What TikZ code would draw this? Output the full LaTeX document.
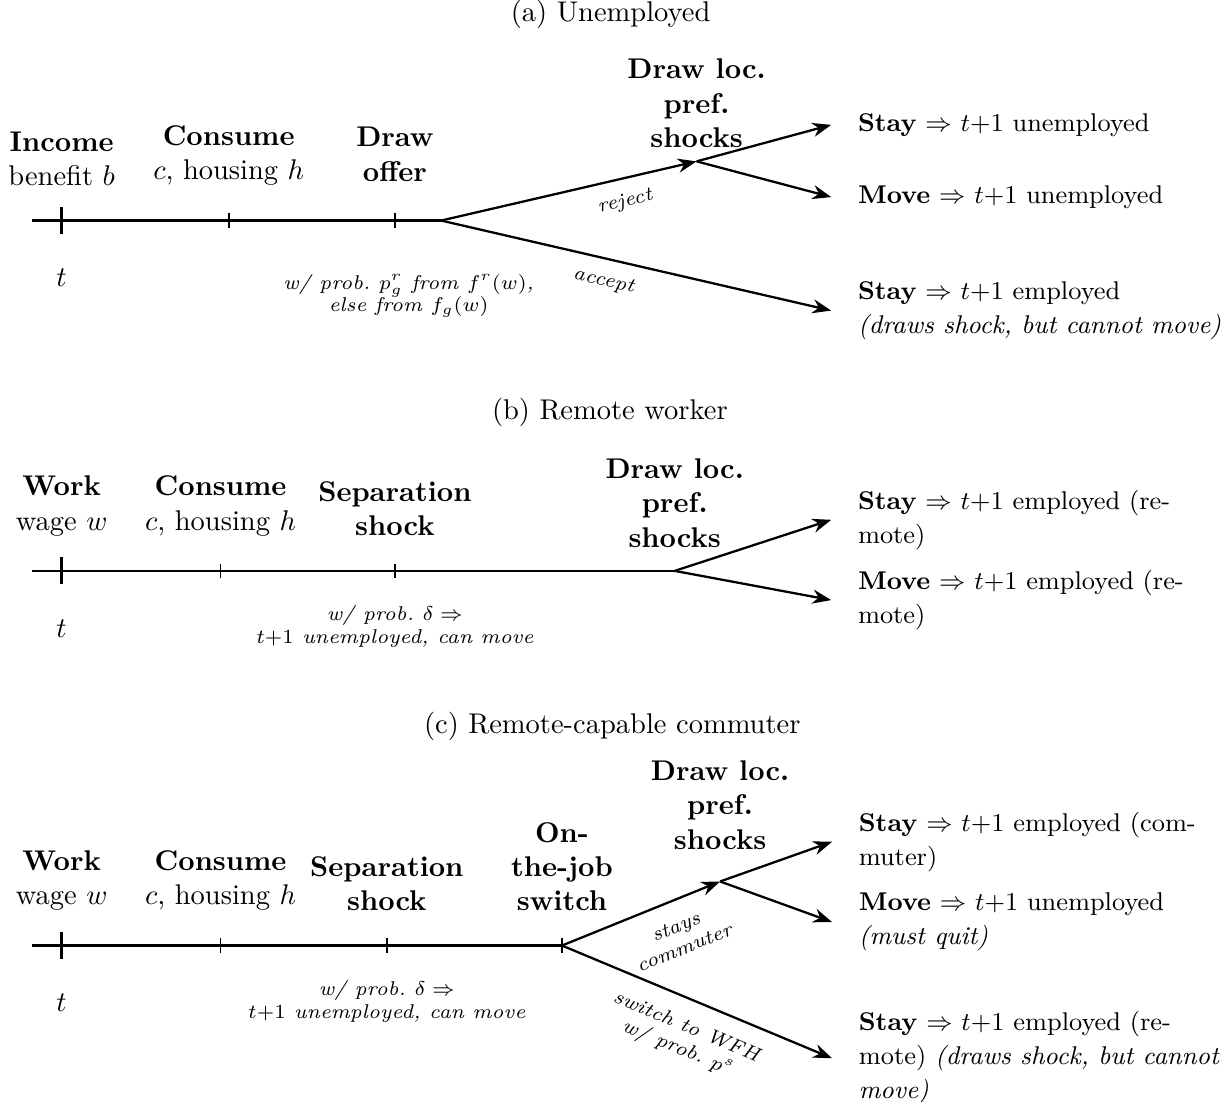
\documentclass[tikz,border=0pt]{standalone}
\usetikzlibrary{arrows.meta,positioning}

\tikzset{
  stage/.style={above=3mm, align=center},
  shocklbl/.style={align=center, font=\bfseries},
  note/.style={font=\scriptsize\itshape, align=center},
  branch/.style={font=\scriptsize\itshape, align=center, sloped, below=0.5mm},
  outcome/.style={right=2mm, align=left, font=\fontsize{9}{12}\selectfont},
  arr/.style={-{Stealth}},
  bigtick/.style={very thick},
  smalltick/.style={semithick}
}

\begin{document}
\begin{tikzpicture}[thick]
\useasboundingbox (0,0) rectangle (15.18,-13.58);

% (a) unemployed
\node (ttla) at (7.53,-0.18) {(a) Unemployed};
\coordinate (a0) at (0.39,-2.72);
\coordinate (a1) at (0.76,-2.72);
\coordinate (a2) at (2.82,-2.72);
\coordinate (a3) at (4.87,-2.72);
\coordinate (a4) at (5.44,-2.72);
\coordinate (apref) at (8.59,-1.99);
\coordinate (astay) at (10.25,-1.54);
\coordinate (amove) at (10.25,-2.43);
\coordinate (aacc) at (10.25,-3.83);
\draw (a0) -- (a4);
\draw[bigtick] ([yshift=-4.7pt]a1) -- ([yshift=4.7pt]a1);
\foreach \p in {a2,a3}
  \draw[smalltick] ([yshift=-2.5pt]\p) -- ([yshift=2.5pt]\p);
\node[stage] (aincome) at (a1) {\textbf{Income}\\benefit $b$};
\node[stage] (acons) at (a2) {\textbf{Consume}\\$c$, housing $h$};
\node[stage, yshift=1.5pt] (aoffer) at (a3) {\textbf{Draw}\\\textbf{offer}};
\node[below=4.7mm] (at) at (a1) {$t$};
\node[note, anchor=north] (aprob) at (5.04,-3.25) {w/ prob.\ $p^r_g$ from $f^r(w)$,\\[-1.3pt]else from $f_g(w)$};
\draw[arr] (a4) -- node[branch, pos=0.7] {reject} (apref);
\draw[arr] (a4) -- node[branch, pos=0.43] {accept} (aacc);
\node[shocklbl, above=0.4mm] (adraw) at (apref) {Draw loc.\\pref.\\shocks};
\draw[arr] (apref) -- (astay);
\draw[arr] (apref) -- (amove);
\node[outcome] (astayt) at (astay) {\textbf{Stay} $\Rightarrow$ $t{+}1$ unemployed};
\node[outcome] (amovet) at (amove) {\textbf{Move} $\Rightarrow$ $t{+}1$ unemployed};
\node[outcome] (aacct) at (aacc) {\textbf{Stay} $\Rightarrow$ $t{+}1$ employed\\\textit{(draws shock, but cannot move)}};

% (b) remote worker
\node (ttlb) at (7.52,-5.08) {(b) Remote worker};
\coordinate (b0) at (0.39,-7.04);
\coordinate (b1) at (0.76,-7.04);
\coordinate (b2) at (2.72,-7.04);
\coordinate (b3) at (4.87,-7.04);
\coordinate (b4) at (8.32,-7.04);
\coordinate (bstay) at (10.25,-6.41);
\coordinate (bmove) at (10.25,-7.40);
\draw (b0) -- (b4);
\draw[bigtick] ([yshift=-4.7pt]b1) -- ([yshift=4.7pt]b1);
\foreach \p in {b2,b3}
  \draw[smalltick] ([yshift=-2.5pt]\p) -- ([yshift=2.5pt]\p);
\node[stage] (bwork) at (b1) {\textbf{Work}\\wage $w$};
\node[stage] (bcons) at (b2) {\textbf{Consume}\\$c$, housing $h$};
\node[stage] (bsep) at (b3) {\textbf{Separation}\\\textbf{shock}};
\node[below=4.7mm] (bt) at (b1) {$t$};
\node[note, below=3mm] (bprob) at (b3) {w/ prob.\ $\delta \Rightarrow$\\$t{+}1$ unemployed, can move};
\node[shocklbl, above=1.6mm] (bdraw) at (b4) {Draw loc.\\pref.\\shocks};
\draw[arr] (b4) -- (bstay);
\draw[arr] (b4) -- (bmove);
\node[outcome] (bstayt) at (bstay) {\textbf{Stay} $\Rightarrow$ $t{+}1$ employed (re-\\mote)};
\node[outcome] (bmovet) at (bmove) {\textbf{Move} $\Rightarrow$ $t{+}1$ employed (re-\\mote)};

% (c) remote-capable commuter
\node (ttlc) at (7.55,-8.96) {(c) Remote-capable commuter};
\coordinate (c0) at (0.39,-11.66);
\coordinate (c1) at (0.76,-11.66);
\coordinate (c2) at (2.72,-11.66);
\coordinate (c3) at (4.77,-11.66);
\coordinate (c4) at (6.93,-11.66);
\coordinate (cpref) at (8.88,-10.87);
\coordinate (cstay) at (10.26,-10.38);
\coordinate (cmove) at (10.26,-11.37);
\coordinate (cwfh) at (10.26,-13.05);
\draw (c0) -- (c4);
\draw[bigtick] ([yshift=-4.7pt]c1) -- ([yshift=4.7pt]c1);
\foreach \p in {c2,c3,c4}
  \draw[smalltick] ([yshift=-2.5pt]\p) -- ([yshift=2.5pt]\p);
\node[stage] (cwork) at (c1) {\textbf{Work}\\wage $w$};
\node[stage] (ccons) at (c2) {\textbf{Consume}\\$c$, housing $h$};
\node[stage] (csep) at (c3) {\textbf{Separation}\\\textbf{shock}};
\node[stage, font=\bfseries] (cswitch) at (c4) {On-\\the-job\\switch};
\node[below=4.7mm] (ct) at (c1) {$t$};
\node[note, below=3mm] (cprob) at (c3) {w/ prob.\ $\delta \Rightarrow$\\$t{+}1$ unemployed, can move};
\draw[arr] (c4) -- node[branch, pos=0.66, below=1mm] {stays\\commuter} (cpref);
\draw[arr] (c4) -- node[branch, pos=0.5, below=1mm] {switch to WFH\\w/ prob.\ $p^s$} (cwfh);
\node[shocklbl, above=2.65mm] (cdraw) at (cpref) {Draw loc.\\pref.\\shocks};
\draw[arr] (cpref) -- (cstay);
\draw[arr] (cpref) -- (cmove);
\node[outcome] (cstayt) at (cstay) {\textbf{Stay} $\Rightarrow$ $t{+}1$ employed (com-\\muter)};
\node[outcome] (cmovet) at (cmove) {\textbf{Move} $\Rightarrow$ $t{+}1$ unemployed\\\textit{(must quit)}};
\node[outcome] (cwfht) at (cwfh) {\textbf{Stay} $\Rightarrow$ $t{+}1$ employed (re-\\mote) \textit{(draws shock, but cannot}\\\textit{move)}};
\end{tikzpicture}
\end{document}
